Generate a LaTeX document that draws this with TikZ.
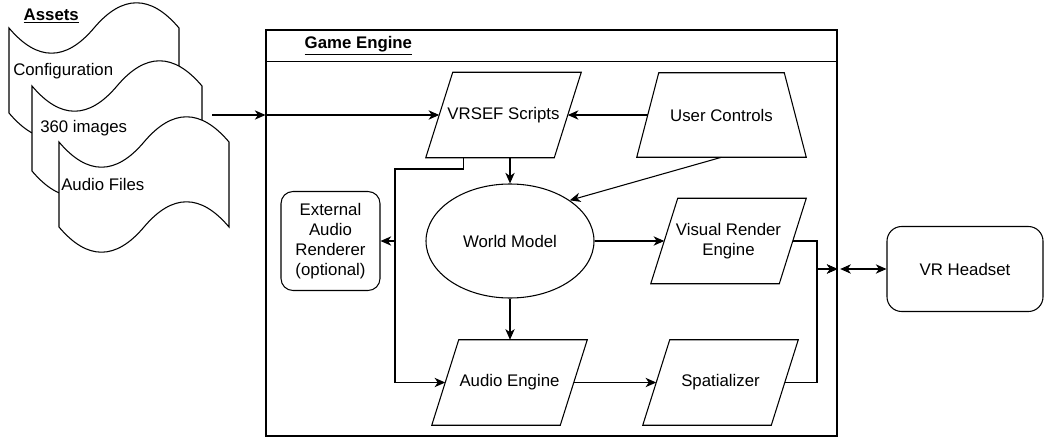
\documentclass[tikz,border=0pt]{standalone}
\usepackage{fontspec}
\setmainfont{Liberation Sans}
\usetikzlibrary{shapes.geometric, arrows.meta, calc}

\tikzset{
  every node/.style={font=\fontsize{12.6}{15}\selectfont, align=center},
  line/.style={line width=0.8pt},
  arr/.style={line, -{Stealth[length=8pt, width=7pt, inset=2.4pt]}},
  darr/.style={line, {Stealth[length=8pt, width=7pt, inset=2.4pt]}-{Stealth[length=8pt, width=7pt, inset=2.4pt]}},
  slanted/.style={minimum width=96pt, minimum height=63.75pt, inner sep=0pt},
  rbox/.style={draw, line, rounded corners=9pt, inner sep=0pt},
  tape/.pic={\draw[line, fill=white] (0,28) .. controls (28.33,61.6) and (56.67,61.6) .. (85,28)
    .. controls (113.33,-5.6) and (141.67,-5.6) .. (170,28) -- (170,113)
    .. controls (141.67,79.4) and (113.33,79.4) .. (85,113)
    .. controls (56.67,146.6) and (28.33,146.6) .. (0,113) -- cycle;}
}

\begin{document}
\begin{tikzpicture}[x=0.75pt, y=-0.75pt]
  \useasboundingbox (0,0) rectangle (1045,439);

  % assets
  \pic at (9,0) {tape};
  \pic at (32,58) {tape};
  \pic at (59,114) {tape};
  \node[anchor=west] (assets) at (19,16) {\textbf{\underline{Assets}}};
  \node[anchor=west, inner sep=0pt] (cfg) at (13,71) {Configuration};
  \node[anchor=west, inner sep=0pt] (img) at (40,128) {360 images};
  \node[anchor=west, inner sep=0pt] (aud) at (61,184) {Audio Files};

  % game engine
  \node[draw, line, minimum width=428.25pt, minimum height=304.5pt] (engine) at (551.5,233) {};
  \draw[line] ([yshift=-24pt]engine.north west) -- ([yshift=-24pt]engine.north east);
  \node[anchor=west] (title) at (300,46) {\textbf{\underline{Game Engine}}};

  \node[slanted] (vrsef) at (503.5,115) {VRSEF Scripts};
  \node[minimum width=110.25pt, minimum height=63pt, inner sep=0pt] (uc) at (721.5,115) {User Controls};
  \node[draw, line, ellipse, minimum width=126pt, minimum height=85.5pt, inner sep=0pt] (wm) at (510,241) {World Model};
  \node[rbox, minimum width=74.25pt, minimum height=74.25pt] (ear) at (330.5,241) {External\\Audio\\Renderer\\(optional)};
  \node[slanted] (vre) at (728.5,241) {Visual Render\\Engine};
  \node[slanted] (ae) at (509.5,382.5) {Audio Engine};
  \node[slanted] (sp) at (720.5,382.5) {Spatializer};
  \node[rbox, rounded corners=11pt, minimum width=117pt, minimum height=63.75pt] (vrh) at (965,269) {VR Headset};

  % parallelogram and trapezoid outlines
  \foreach \n in {vrsef, vre, ae, sp}
    \draw[line] ([xshift=-10.125pt]\n.south west) -- ([xshift=10.125pt]\n.north west)
      -- ([xshift=10.125pt]\n.north east) -- ([xshift=-10.125pt]\n.south east) -- cycle;
  \draw[line] ([xshift=-8.25pt]uc.south west) -- ([xshift=8.25pt]uc.north west)
    -- ([xshift=-8.25pt]uc.north east) -- ([xshift=8.25pt]uc.south east) -- cycle;

  \coordinate (src) at (212,115);
  \coordinate (gin) at (engine.west |- vrsef);
  \coordinate (tap) at ([xshift=18.4pt]vrsef.south west);
  \coordinate (bustop) at (395,169);
  \coordinate (bus) at (395,382.5);
  \coordinate (merge) at (817,269);
  \coordinate (gout) at (engine.east |- merge);

  \draw[arr] (src) -- (gin);
  \draw[arr] (gin) -- (vrsef);
  \draw[arr] (uc) -- (vrsef);
  \draw[arr] (wm.north |- vrsef.south) -- (wm.north);
  \draw[arr] (uc.south) -- (wm.north east);
  \draw[arr] (tap) |- (bustop) -- (bus) -- (ae);
  \draw[arr] (ear.east -| bus) -- (ear.east);
  \draw[arr] (wm) -- (vre);
  \draw[arr] (wm.south) -- (wm.south |- ae.north);
  \draw[arr] (ae) -- (sp);
  \draw[arr] (vre) -| (merge) -- (gout);
  \draw[arr] (sp) -| (merge) -- (gout);
  \draw[darr, shorten <=2pt] (gout) -- (vrh);
\end{tikzpicture}
\end{document}
